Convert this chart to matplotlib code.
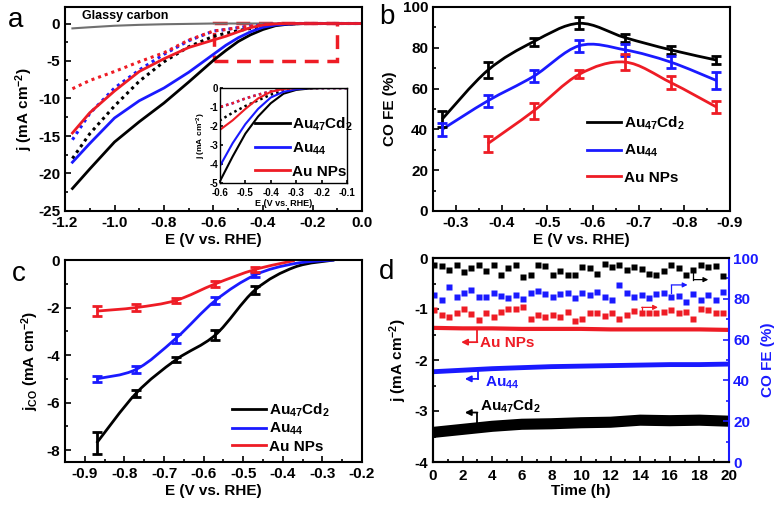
import numpy as np
import matplotlib
matplotlib.use("Agg")
import matplotlib.pyplot as plt
from matplotlib.path import Path
from matplotlib.patches import PathPatch, Rectangle
from matplotlib.lines import Line2D
from matplotlib.ticker import MultipleLocator

plt.rcParams['font.family'] = 'Liberation Sans'
plt.rcParams['font.weight'] = 'bold'
plt.rcParams['axes.labelweight'] = 'bold'
plt.rcParams['axes.unicode_minus'] = False
plt.rcParams['mathtext.fontset'] = 'custom'
plt.rcParams['mathtext.rm'] = 'Liberation Sans:bold'
plt.rcParams['mathtext.it'] = 'Liberation Sans:bold'
plt.rcParams['mathtext.bf'] = 'Liberation Sans:bold'
plt.rcParams['mathtext.default'] = 'rm'

BLACK, BLUE, RED, GRAY = '#000000', '#1a1aff', '#ee1c25', '#707070'
labels = ['Au$_{47}$Cd$_{2}$', 'Au$_{44}$', 'Au NPs']
colors = [BLACK, BLUE, RED]

# ---- panel a: LSV curves
E_lsv = [-1.17, -1.1, -1.0, -0.9, -0.8, -0.7, -0.6, -0.55, -0.5, -0.45, -0.4,
         -0.35, -0.3, -0.25, -0.2, -0.1, 0.0]
j_au47cd2 = [-22.0, -19.4, -15.8, -13.1, -10.6, -7.8, -4.9, -3.6, -2.4, -1.5, -0.8,
             -0.3, -0.1, -0.03, 0, 0, 0]
j_au44 = [-18.5, -16.0, -12.6, -10.3, -8.6, -6.5, -4.1, -2.9, -1.9, -1.1, -0.5,
          -0.2, -0.07, 0, 0, 0, 0]
j_aunp = [-14.6, -11.9, -9.0, -6.4, -4.7, -3.2, -2.2, -1.7, -1.1, -0.55, -0.2,
          -0.05, 0, 0, 0, 0, 0]
j_au47cd2_dot = [-18.0, -14.7, -11.0, -7.7, -5.1, -3.1, -1.7, -1.3, -0.95, -0.65, -0.35,
                 -0.15, -0.05, 0, 0, 0, 0]
j_au44_dot = [-15.5, -12.0, -8.6, -6.2, -4.1, -2.3, -1.0, -0.8, -0.55, -0.35, -0.18,
              -0.07, -0.02, 0, 0, 0, 0]
j_aunp_dot = [-8.7, -7.6, -6.4, -5.1, -3.9, -2.2, -1.0, -0.8, -0.55, -0.35, -0.18,
              -0.07, -0.02, 0, 0, 0, 0]
E_gc = [-1.17, -1.1, -1.0, -0.9, -0.8, -0.6, 0.0]
j_gc = [-0.65, -0.5, -0.3, -0.18, -0.1, 0, 0]

# ---- panel b: CO faradaic efficiency
E_fe = [-0.27, -0.37, -0.47, -0.57, -0.67, -0.77, -0.87]
fe_au47cd2 = [45, 69, 83, 92, 85, 79, 74]
fe_au47cd2_err = [4, 4, 2, 3, 2, 2, 2]
fe_au44 = [40, 54, 66, 81, 79, 73, 64]
fe_au44_err = [3, 3, 3, 3, 3, 3, 4]
E_fe_np = [-0.37, -0.47, -0.57, -0.67, -0.77, -0.87]
fe_aunp = [33, 49, 67, 73, 63, 51]
fe_aunp_err = [4, 4, 2, 4, 3, 3]

# ---- panel c: CO partial current density
E_jco = [-0.87, -0.77, -0.67, -0.57, -0.47, -0.37, -0.27]
jco_au47cd2 = [-7.7, -5.6, -4.2, -3.15, -1.26, -0.3, 0.0]
jco_au47cd2_err = [0.45, 0.15, 0.1, 0.2, 0.15]
jco_au44 = [-5.0, -4.6, -3.3, -1.7, -0.63, -0.15, 0.0]
jco_au44_err = [0.12, 0.15, 0.2, 0.15, 0.1]
E_jco_np = [-0.87, -0.77, -0.67, -0.57, -0.47, -0.37]
jco_aunp = [-2.15, -2.0, -1.7, -1.0, -0.4, -0.02]
jco_aunp_err = [0.2, 0.15, 0.1, 0.12, 0.1]

# ---- panel d: stability
t_j = [0, 2, 4, 6, 8, 10, 12, 14, 16, 18, 20]
jt_aunp = [-1.37, -1.38, -1.38, -1.39, -1.39, -1.39, -1.40, -1.40, -1.40, -1.40, -1.41]
jt_au44 = [-2.23, -2.20, -2.17, -2.15, -2.13, -2.12, -2.11, -2.10, -2.09, -2.09, -2.08]
jt_au47cd2 = [-3.42, -3.36, -3.30, -3.26, -3.25, -3.23, -3.22, -3.18, -3.19, -3.18, -3.20]
t_fe = [0.1, 0.6, 1.1, 1.6, 2.1, 2.6, 3.1, 3.6, 4.1, 4.6, 5.1, 5.6, 6.1, 6.6, 7.1, 7.6,
        8.1, 8.6, 9.1, 9.6, 10.1, 10.6, 11.1, 11.6, 12.1, 12.6, 13.1, 13.6, 14.1, 14.6,
        15.1, 15.6, 16.1, 16.6, 17.1, 17.6, 18.1, 18.6, 19.1, 19.6]
fet_au47cd2 = [96.7, 95.9, 93.9, 96.7, 92.9, 95.1, 96.7, 93.4, 96.7, 91.8, 95.1, 96.7,
               90.6, 91.8, 96.7, 95.9, 91.8, 93.4, 91.8, 91.8, 95.6, 95.1, 92.3, 97.2,
               95.6, 96.7, 93.9, 95.6, 94.6, 92.3, 91.8, 93.4, 96.7, 95.1, 91.8, 93.9,
               96.7, 95.6, 96.2, 91.3]
fet_au44 = [81.9, 79.4, 85.7, 81.1, 83.0, 84.3, 81.1, 81.1, 83.0, 81.4, 80.2, 81.9,
            79.7, 82.7, 84.0, 82.4, 81.1, 82.4, 82.7, 80.2, 83.0, 81.9, 83.5, 81.1,
            79.4, 86.8, 82.7, 81.1, 81.9, 80.2, 82.4, 83.0, 81.1, 81.4, 78.6, 82.4,
            79.4, 81.9, 79.4, 83.5]
fet_aunp = [74.5, 72.0, 71.2, 72.8, 74.8, 72.5, 69.5, 72.8, 71.2, 73.6, 74.8, 74.8,
            76.1, 69.9, 72.0, 71.2, 72.0, 71.2, 73.6, 69.2, 70.3, 72.8, 72.8, 71.5,
            72.8, 69.9, 72.0, 74.1, 72.8, 73.1, 73.1, 73.6, 74.5, 72.8, 73.6, 70.3,
            74.8, 74.5, 72.8, 72.8]


def smooth_line(ax, x, y, **kw):
    """Draw a smooth curve through the points (Catmull-Rom as Bezier path)."""
    n = len(x)
    verts = [(x[0], y[0])]
    codes = [Path.MOVETO]
    for i in range(n - 1):
        p0 = max(i - 1, 0)
        p3 = min(i + 2, n - 1)
        c1 = (x[i] + (x[i + 1] - x[p0]) / 6, y[i] + (y[i + 1] - y[p0]) / 6)
        c2 = (x[i + 1] - (x[p3] - x[i]) / 6, y[i + 1] - (y[p3] - y[i]) / 6)
        verts += [c1, c2, (x[i + 1], y[i + 1])]
        codes += [Path.CURVE4] * 3
    ax.add_patch(PathPatch(Path(verts, codes), fill=False, **kw))


def style(ax, fs=11):
    for s in ax.spines.values():
        s.set_linewidth(1.5)
    ax.tick_params(which='both', direction='in', width=1.2, labelsize=fs,
                   top=False, right=False)
    ax.tick_params(which='major', length=4)
    ax.tick_params(which='minor', length=2.5)


W, H = 779, 507


def box(l, t, r, b):
    return [l / W, 1 - b / H, (r - l) / W, (b - t) / H]


fig = plt.figure(figsize=(W / 100, H / 100), dpi=100)
leg_kw = dict(frameon=False, fontsize=11, handlelength=2.2, handletextpad=0.2,
              borderpad=0, borderaxespad=0)
handles = [Line2D([], [], color=c, lw=2) for c in colors]

# ================= a
ax = fig.add_axes(box(65, 7, 362, 211))
dot = (0, (1, 1.3))
ax.plot(E_gc, j_gc, color=GRAY, lw=1.5)
for jj, c in zip([j_au47cd2_dot, j_au44_dot, j_aunp_dot], colors):
    ax.plot(E_lsv, jj, color=c, lw=2.2, ls=dot)
for jj, c in zip([j_au47cd2, j_au44, j_aunp], colors):
    ax.plot(E_lsv, jj, color=c, lw=2)
ax.add_patch(Rectangle((-0.6, -5), 0.5, 5.1, fill=False, ec=RED, lw=2.5,
                       ls=(0, (4, 2.5))))
ax.text(-1.13, 1.0, 'Glassy carbon', fontsize=9, va='center')
ax.set_xlim(-1.2, 0.0)
ax.set_ylim(-25, 2.2)
ax.xaxis.set_major_locator(MultipleLocator(0.2))
ax.xaxis.set_minor_locator(MultipleLocator(0.1))
ax.yaxis.set_major_locator(MultipleLocator(5))
ax.yaxis.set_minor_locator(MultipleLocator(2.5))
ax.set_xlabel('E (V vs. RHE)', fontsize=11, labelpad=2)
ax.set_ylabel('j (mA cm$^{-2}$)', fontsize=11, labelpad=2)
style(ax)

# inset
axi = fig.add_axes(box(220, 88, 347, 183))
for jj, c in zip([j_au47cd2_dot, j_au44_dot, j_aunp_dot], colors):
    axi.plot(E_lsv, jj, color=c, lw=1.8, ls=dot)
for jj, c in zip([j_au47cd2, j_au44, j_aunp], colors):
    axi.plot(E_lsv, jj, color=c, lw=1.5)
axi.set_xlim(-0.6, -0.1)
axi.set_ylim(-5, 0)
axi.xaxis.set_major_locator(MultipleLocator(0.1))
axi.yaxis.set_major_locator(MultipleLocator(1))
axi.set_xlabel('E (V vs. RHE)', fontsize=6.5, labelpad=1)
axi.set_ylabel('j (mA cm$^{-2}$)', fontsize=6, labelpad=1)
style(axi, fs=7)
for s in axi.spines.values():
    s.set_linewidth(1)
axi.tick_params(which='major', length=2)
axi.tick_params(axis='x', pad=3.5)
axi.tick_params(axis='y', pad=1.5)
axi.legend(handles, labels, loc='upper left', bbox_to_anchor=(0.276, 0.71),
           frameon=False, fontsize=11, handlelength=2.3, handletextpad=0.15,
           borderpad=0, borderaxespad=0, labelspacing=0.5)

# ================= b
ax = fig.add_axes(box(433, 7, 730, 211))
for x, y, e, c in zip([E_fe, E_fe, E_fe_np], [fe_au47cd2, fe_au44, fe_aunp],
                      [fe_au47cd2_err, fe_au44_err, fe_aunp_err], colors):
    smooth_line(ax, x, y, color=c, lw=2)
    ax.errorbar(x, y, yerr=e, fmt='none', ecolor=c, elinewidth=2, capsize=3.5,
                capthick=2)
ax.set_xlim(-0.25, -0.9)
ax.set_ylim(0, 100)
ax.xaxis.set_major_locator(MultipleLocator(0.1))
ax.xaxis.set_minor_locator(MultipleLocator(0.05))
ax.yaxis.set_major_locator(MultipleLocator(20))
ax.yaxis.set_minor_locator(MultipleLocator(10))
ax.set_xlabel('E (V vs. RHE)', fontsize=11, labelpad=2)
ax.set_ylabel('CO FE (%)', fontsize=11, labelpad=4)
style(ax)
ax.legend(handles, labels, loc='upper left', bbox_to_anchor=(0.519, 0.475),
          labelspacing=0.75, **leg_kw)

# ================= c
ax = fig.add_axes(box(65, 260, 362, 462))
for x, y, e, c in zip([E_jco, E_jco, E_jco_np], [jco_au47cd2, jco_au44, jco_aunp],
                      [jco_au47cd2_err, jco_au44_err, jco_aunp_err], colors):
    smooth_line(ax, x, y, color=c, lw=2)
    ax.errorbar(x[:len(e)], y[:len(e)], yerr=e, fmt='none', ecolor=c, elinewidth=2,
                capsize=3.5, capthick=2)
ax.set_xlim(-0.95, -0.2)
ax.set_ylim(-8.5, 0)
ax.xaxis.set_major_locator(MultipleLocator(0.1))
ax.xaxis.set_minor_locator(MultipleLocator(0.05))
ax.yaxis.set_major_locator(MultipleLocator(2))
ax.yaxis.set_minor_locator(MultipleLocator(1))
ax.set_xlabel('E (V vs. RHE)', fontsize=11, labelpad=2)
ax.set_ylabel('j$_{CO}$ (mA cm$^{-2}$)', fontsize=11, labelpad=4)
style(ax)
ax.legend(handles, labels, loc='upper left', bbox_to_anchor=(0.562, 0.30),
          labelspacing=0.15, **leg_kw)

# ================= d
ax = fig.add_axes(box(433, 258, 729, 462))
ax2 = ax.twinx()
ax.plot(t_j, jt_aunp, color=RED, lw=3)
ax.plot(t_j, jt_au44, color=BLUE, lw=3.5)
ax.plot(t_j, jt_au47cd2, color=BLACK, lw=8)
for y, c in zip([fet_au47cd2, fet_au44, fet_aunp], colors):
    ax2.plot(t_fe, y, ls='none', marker='s', ms=3.8, color=c, mec='none')
ax.set_xlim(0, 20)
ax.set_ylim(-4, 0)
ax2.set_ylim(0, 100)
ax.xaxis.set_major_locator(MultipleLocator(2))
ax.xaxis.set_minor_locator(MultipleLocator(1))
ax.yaxis.set_major_locator(MultipleLocator(1))
ax.yaxis.set_minor_locator(MultipleLocator(0.5))
ax2.yaxis.set_major_locator(MultipleLocator(20))
ax2.yaxis.set_minor_locator(MultipleLocator(10))
ax.set_xlabel('Time (h)', fontsize=11, labelpad=1)
ax.set_ylabel('j (mA cm$^{-2}$)', fontsize=11, labelpad=4)
ax2.set_ylabel('CO FE (%)', fontsize=11, color=BLUE, labelpad=2)
style(ax)
ax.tick_params(axis='x', pad=5)
for s in ax2.spines.values():
    s.set_linewidth(1.5)
ax.spines['right'].set_visible(False)
ax2.spines['right'].set_color(BLUE)
ax2.tick_params(which='both', direction='in', width=1.2, labelsize=11,
                colors=BLUE, labelcolor=BLUE, pad=3)
ax2.tick_params(which='major', length=4)
ax2.tick_params(which='minor', length=2.5)

# arrows pointing at the left axis
arrows_left = [((3.0, -1.40), (3.0, -1.65), (1.9, -1.65), RED),
               ((3.05, -2.20), (3.05, -2.37), (2.15, -2.37), BLUE),
               ((3.0, -3.30), (3.0, -3.03), (2.15, -3.03), BLACK)]
for p0, p1, p2, c in arrows_left:
    ax.plot([p0[0], p1[0]], [p0[1], p1[1]], color=c, lw=1.3)
    ax.annotate('', xy=p2, xytext=p1,
                arrowprops=dict(arrowstyle='-|>', color=c, lw=1.3, mutation_scale=9,
                                shrinkA=0, shrinkB=0))
arrows_right = [((17.6, 93.9), (17.6, 89.4), (18.6, 89.4), BLACK),
                ((16.1, 83.0), (16.1, 86.8), (17.2, 86.8), BLUE),
                ((14.1, 72.0), (14.1, 75.8), (15.2, 75.8), RED)]
for p0, p1, p2, c in arrows_right:
    ax2.plot([p0[0], p1[0]], [p0[1], p1[1]], color=c, lw=0.9)
    ax2.annotate('', xy=p2, xytext=p1,
                 arrowprops=dict(arrowstyle='-|>', color=c, lw=0.9, mutation_scale=7,
                                 shrinkA=0, shrinkB=0))
ax.text(3.2, -1.67, 'Au NPs', color=RED, fontsize=11, va='center')
ax.text(3.5, -2.45, 'Au$_{44}$', color=BLUE, fontsize=11, va='center')
ax.text(3.2, -2.9, 'Au$_{47}$Cd$_{2}$', color=BLACK, fontsize=11, va='center')

# panel letters
for ch, x, y in [('a', 16, 20), ('b', 387, 17), ('c', 19, 274), ('d', 387, 272)]:
    fig.text(x / W, 1 - y / H, ch, fontsize=20, ha='center', va='center',
             fontweight='normal')

fig.savefig('out.png', dpi=100)
